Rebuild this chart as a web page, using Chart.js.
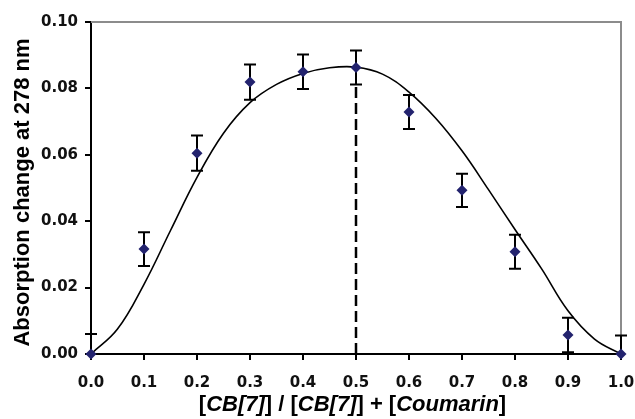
<!DOCTYPE html>
<html><head><meta charset="utf-8">
<script src="https://cdn.jsdelivr.net/npm/chart.js@4/dist/chart.umd.min.js"></script>
<style>html,body{margin:0;padding:0;background:#fff}</style>
</head><body>
<canvas id="c" width="635" height="419"></canvas>
<script>
// measured points
const xValues = [0.0, 0.1, 0.2, 0.3, 0.4, 0.5, 0.6, 0.7, 0.8, 0.9, 1.0];
const yValues = [0.0, 0.0316, 0.0605, 0.0819, 0.0850, 0.0863, 0.0729, 0.0493, 0.0308, 0.0057, 0.0];
const yErrors = [0.0060, 0.0051, 0.0053, 0.0053, 0.0052, 0.0051, 0.0051, 0.0050, 0.0051, 0.0052, 0.0056];
// fitted curve
const fitX = [0.0, 0.05, 0.1, 0.15, 0.2, 0.25, 0.3, 0.35, 0.4, 0.45, 0.5, 0.55, 0.6, 0.65, 0.7, 0.75, 0.8, 0.85, 0.9, 0.95, 1.0];
const fitY = [0.0, 0.0075, 0.0210, 0.0372, 0.0532, 0.0665, 0.0757, 0.0812, 0.0845, 0.0862, 0.0864, 0.0843, 0.0789, 0.0711, 0.0612, 0.0495, 0.0375, 0.0257, 0.0130, 0.0045, 0.0];
// dashed marker line at the maximum
const peakX = [0.5, 0.5];
const peakY = [0.0, 0.0815];
// tick labels
const xTickLabels = ['0.0','0.1','0.2','0.3','0.4','0.5','0.6','0.7','0.8','0.9','1.0'];
const yTickLabels = ['0.00','0.02','0.04','0.06','0.08','0.10'];
const yTitle = 'Absorption change at 278 nm';
const xTitleParts = [['[',false],['CB[7]',true],['] / [',false],['CB[7]',true],['] + [',false],['Coumarin',true],[']',false]];

const FONT = "'DejaVu Sans', 'Liberation Sans', sans-serif";
const TFONT = "'Liberation Sans', Arial, sans-serif";

const extras = {
  id: 'extras',
  beforeDatasetsDraw(chart) {
    const {ctx, chartArea: a, scales: {x, y}} = chart;
    ctx.save();
    // top & right frame (grey)
    ctx.strokeStyle = '#8c8c8c';
    ctx.lineWidth = 2;
    ctx.beginPath();
    ctx.moveTo(a.left, a.top); ctx.lineTo(a.right, a.top); ctx.lineTo(a.right, a.bottom);
    ctx.stroke();
    // error bars
    ctx.beginPath();
    ctx.rect(a.left - 20, a.top - 10, a.right - a.left + 40, a.bottom - a.top + 10);
    ctx.clip();
    ctx.strokeStyle = '#000';
    ctx.lineWidth = 2;
    xValues.forEach((xv, i) => {
      const px = x.getPixelForValue(xv);
      const hi = y.getPixelForValue(yValues[i] + yErrors[i]);
      const lo = y.getPixelForValue(yValues[i] - yErrors[i]);
      ctx.beginPath();
      ctx.moveTo(px, hi); ctx.lineTo(px, lo);
      ctx.moveTo(px - 6, hi); ctx.lineTo(px + 6, hi);
      ctx.moveTo(px - 6, lo); ctx.lineTo(px + 6, lo);
      ctx.stroke();
    });
    ctx.restore();
  },
  afterDraw(chart) {
    const {ctx, chartArea: a} = chart;
    ctx.save();
    ctx.fillStyle = '#000';
    // x title (mixed upright / italic)
    ctx.textBaseline = 'alphabetic';
    ctx.textAlign = 'left';
    const fontOf = it => (it ? 'italic ' : '') + 'bold 22px ' + TFONT;
    let total = 0;
    xTitleParts.forEach(([t, it]) => { ctx.font = fontOf(it); total += ctx.measureText(t).width; });
    let cx = (a.left + a.right) / 2 - 3.5 - total / 2;
    xTitleParts.forEach(([t, it]) => {
      ctx.font = fontOf(it);
      ctx.fillText(t, cx, 411);
      cx += ctx.measureText(t).width;
    });
    // y title
    ctx.font = 'bold 22px ' + TFONT;
    ctx.textAlign = 'center';
    ctx.translate(29, (a.top + a.bottom) / 2 + 4.5);
    ctx.rotate(-Math.PI / 2);
    ctx.fillText(yTitle, 0, 0);
    ctx.restore();
  }
};

new Chart(document.getElementById('c'), {
  type: 'scatter',
  data: {
    datasets: [
      {
        data: fitX.map((v, i) => ({x: v, y: fitY[i]})),
        showLine: true, borderColor: '#000', borderWidth: 1.6,
        pointRadius: 0, tension: 0.4, order: 3
      },
      {
        data: peakX.map((v, i) => ({x: v, y: peakY[i]})),
        showLine: true, borderColor: '#000', borderWidth: 2.5,
        borderDash: [11, 5], pointRadius: 0, order: 2
      },
      {
        data: xValues.map((v, i) => ({x: v, y: yValues[i]})),
        pointStyle: 'rectRot', pointRadius: 5.5, pointHoverRadius: 5.5,
        backgroundColor: '#23236e', borderColor: '#23236e', borderWidth: 0,
        clip: false, order: 1
      }
    ]
  },
  options: {
    responsive: false,
    animation: false,
    events: [],
    layout: {padding: {top: 22, right: 14, left: 0, bottom: 0}},
    plugins: {legend: {display: false}, tooltip: {enabled: false}},
    scales: {
      x: {
        type: 'linear', min: 0, max: 1,
        afterFit: s => { s.height = 65; s.paddingLeft = 0; s.paddingRight = 0; },
        border: {color: '#000', width: 2},
        grid: {drawOnChartArea: false, drawTicks: true, tickLength: 6, color: '#000', lineWidth: 2},
        ticks: {
          stepSize: 0.1, padding: 14, color: '#111',
          font: {family: FONT, weight: 'bold', size: 15},
          callback: (v, i) => xTickLabels[i]
        }
      },
      y: {
        type: 'linear', min: 0, max: 0.1,
        afterFit: s => { s.width = 91; s.paddingTop = 0; s.paddingBottom = 0; },
        border: {color: '#000', width: 2},
        grid: {drawOnChartArea: false, drawTicks: true, tickLength: 6, color: '#000', lineWidth: 2},
        ticks: {
          stepSize: 0.02, padding: 7, color: '#111',
          font: {family: FONT, weight: 'bold', size: 15},
          callback: (v, i) => yTickLabels[i]
        }
      }
    }
  },
  plugins: [extras]
});
</script>
</body></html>
